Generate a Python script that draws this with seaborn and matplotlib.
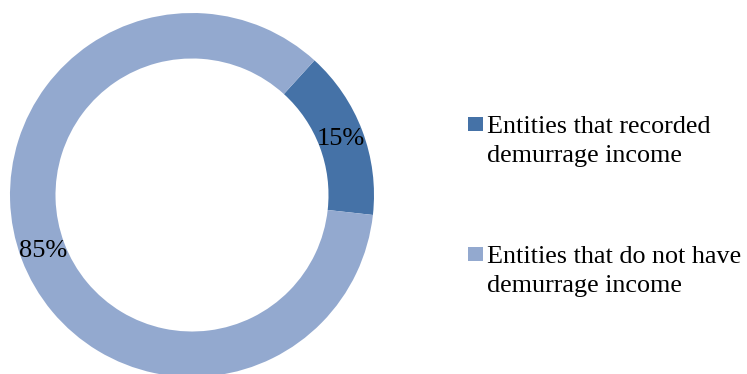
import matplotlib
matplotlib.use("Agg")
import matplotlib.pyplot as plt
import matplotlib.patches as mpatches
import seaborn as sns

# -------------------------------------------------
# Data
# -------------------------------------------------
categories = ["Entities that recorded\ndemurrage income",
              "Entities that do not have\ndemurrage income"]
shares = [15, 85]
colors = ["#4572A7", "#93A9CF"]

sns.set_theme(style="white")
plt.rcParams['font.family'] = ['Liberation Serif', 'DejaVu Serif']

W, H = 747, 374
fig = plt.figure(figsize=(W / 100, H / 100), dpi=100)
# square axes holding the ring, centred at (192, 195) px with radius 182 px
ax = fig.add_axes([10 / W, -3 / H, 364 / W, 364 / H])

wedges, texts = ax.pie(
    shares, colors=colors, startangle=47.7, counterclock=False,
    labels=[f"{v}%" for v in shares], labeldistance=0.875,
    wedgeprops=dict(width=0.25, linewidth=0),
    textprops=dict(fontsize=19, color="black", ha="center", va="center"),
)
ax.set_xlim(-1, 1)
ax.set_ylim(-1, 1)
ax.set_aspect("equal")
ax.axis("off")

# -------------------------------------------------
# Legend: square marker beside the first line of each label
# -------------------------------------------------
for i, (label, col) in enumerate(zip(categories, colors)):
    top = 117 + 130 * i
    fig.patches.append(mpatches.Rectangle(
        (468 / W, 1 - (top + 14) / H), 15 / W, 14 / H,
        transform=fig.transFigure, facecolor=col, edgecolor="none"))
    for j, line in enumerate(label.split("\n")):
        fig.text(487 / W, 1 - (133 + 130 * i + 29 * j) / H, line,
                 fontsize=18.8, color="black", ha="left", va="baseline")

fig.savefig("out.png", dpi=100)
